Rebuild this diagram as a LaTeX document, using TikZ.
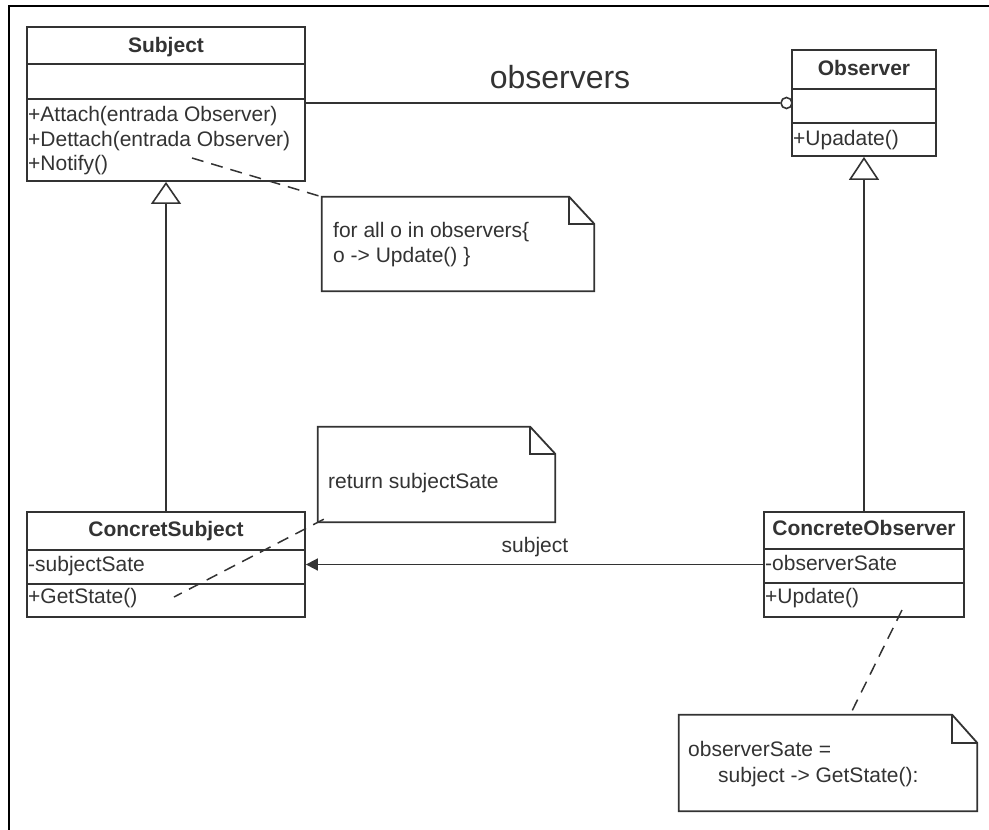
\documentclass[tikz,border=0pt]{standalone}
\usepackage{fontspec}
\setmainfont{Liberation Sans}
\usetikzlibrary{arrows.meta}
\begin{document}
\begin{tikzpicture}[x=1pt,y=-1pt,
  ink/.style={draw=black!80, line width=1.8pt},
  classbox/.style={ink, fill=white, inner sep=0pt, rectangle},
  txt/.style={inner sep=0pt, text=black!80, font=\fontsize{21}{24}\selectfont},
  member/.style={txt, anchor=base west},
  classname/.style={txt, anchor=base, font=\fontsize{21}{24}\selectfont\bfseries},
  notebody/.style={rectangle, inner sep=0pt},
  dashlink/.style={draw=black!80, line width=1.5pt, dash pattern=on 12pt off 8pt},
  link/.style={draw=black!80, line width=1.7pt},
]
\useasboundingbox (0,0) rectangle (989,830);
\fill[white] (0,0) rectangle (989,830);

% outer frame (left and top edges)
\draw[black, line width=2pt] (9,830) -- (9,6) -- (989,6);

% ---------- Subject ----------
\node[classbox, minimum width=278, minimum height=154] (subject) at (166,104) {};
\draw[ink] (27,64) -- (305,64);
\draw[ink] (27,99) -- (305,99);
\node[classname] (subjectname) at (166,52) {Subject};
\node[member] (attach) at (28,121) {+Attach(entrada Observer)};
\node[member] (dettach) at (28,146) {+Dettach(entrada Observer)};
\node[member] (notify) at (28,170) {+Notify()};
\coordinate (notifyend) at (192,158);

% ---------- Observer ----------
\node[classbox, minimum width=144, minimum height=106] (observer) at (864,103) {};
\draw[ink] (792,89) -- (936,89);
\draw[ink] (792,123) -- (936,123);
\node[classname] (observername) at (864,75) {Observer};
\node[member] (upadate) at (793,145) {+Upadate()};

% ---------- ConcretSubject ----------
\node[classbox, minimum width=278, minimum height=105] (csubject) at (166,564.5) {};
\draw[ink] (27,550) -- (305,550);
\draw[ink] (27,584) -- (305,584);
\node[classname] (csubjectname) at (166,536) {ConcretSubject};
\node[member] (subjstate) at (28,571) {-subjectSate};
\node[member] (getstate) at (28,603) {+GetState()};
\coordinate (getstateend) at (174,597);

% ---------- ConcreteObserver ----------
\node[classbox, minimum width=200, minimum height=105] (cobserver) at (864,564.5) {};
\draw[ink] (764,549) -- (964,549);
\draw[ink] (764,583) -- (964,583);
\node[classname] (cobservername) at (864,535) {ConcreteObserver};
\node[member] (obsstate) at (765,570) {-observerSate};
\node[member] (update) at (765,603) {+Update()};
\coordinate (updateend) at (902,610);

% ---------- notes ----------
\node[notebody, minimum width=272, minimum height=94] (note1) at (458,244) {};
\draw[ink] (note1.south west) -- (note1.north west) -- ([xshift=-25pt]note1.north east)
  -- ([yshift=-27pt]note1.north east) -- (note1.south east) -- cycle;
\draw[ink] ([xshift=-25pt]note1.north east) |- ([yshift=-27pt]note1.north east);
\node[member] (note1a) at (333,237) {for all o in observers\{};
\node[member] (note1b) at (333,262) {o -> Update() \}};

\node[notebody, minimum width=237, minimum height=95] (note2) at (436.5,474.5) {};
\draw[ink] (note2.south west) -- (note2.north west) -- ([xshift=-25pt]note2.north east)
  -- ([yshift=-27pt]note2.north east) -- (note2.south east) -- cycle;
\draw[ink] ([xshift=-25pt]note2.north east) |- ([yshift=-27pt]note2.north east);
\node[member] (note2a) at (328,488) {return subjectSate};

\node[notebody, minimum width=298, minimum height=96] (note3) at (828,763) {};
\draw[ink] (note3.south west) -- (note3.north west) -- ([xshift=-25pt]note3.north east)
  -- ([yshift=-28pt]note3.north east) -- (note3.south east) -- cycle;
\draw[ink] ([xshift=-25pt]note3.north east) |- ([yshift=-28pt]note3.north east);
\node[member] (note3a) at (688,756) {observerSate =};
\node[member] (note3b) at (718,782) {subject -> GetState():};
\coordinate (note3top) at (850,715);

% ---------- relations ----------
% association Subject -- Observer
\node[circle, draw=black!80, line width=1.6pt, fill=white, minimum size=11pt, inner sep=0pt]
  (obscircle) at (786.5,103) {};
\draw[link] (subject.east |- obscircle.center) -- (obscircle.west);
\node[txt, anchor=base, font=\fontsize{32}{36}\selectfont] (obslabel) at (560,88) {observers};

% generalizations
\draw[link, -{Triangle[open, length=22pt, width=30pt, line width=1.6pt]}]
  (csubject.north) -- (subject.south);
\draw[link, -{Triangle[open, length=23pt, width=30pt, line width=1.6pt]}]
  (cobserver.north) -- (observer.south);

% association ConcreteObserver -> ConcretSubject
\draw[link, -{Triangle[length=12pt, width=12pt]}] (cobserver.west) -- (csubject.east);
\node[txt, anchor=base] (subjlabel) at (535,552) {subject};

% note anchors
\draw[dashlink] (notifyend) -- (note1.north west);
\draw[dashlink] ([xshift=6pt,yshift=3pt]note2.south west) -- (getstateend);
\draw[dashlink] (updateend) -- (note3top);
\end{tikzpicture}
\end{document}
